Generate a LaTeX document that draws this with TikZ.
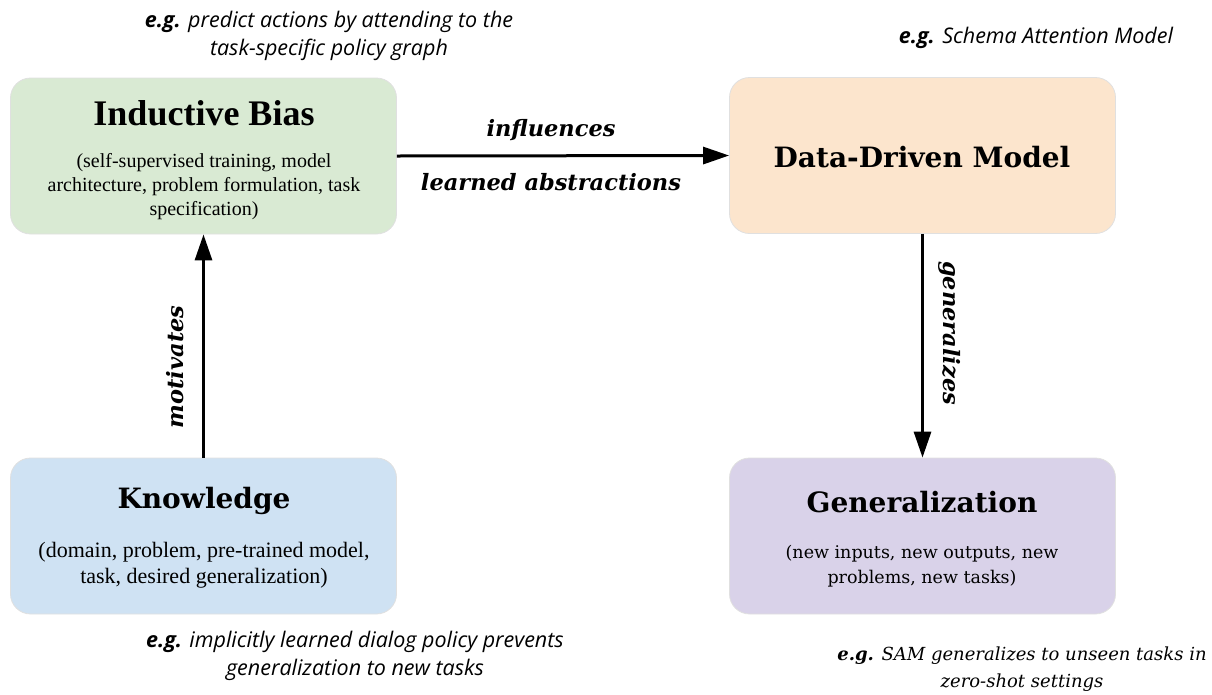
\documentclass[tikz,border=0pt]{standalone}
\usepackage{fontspec}
\setmainfont{DejaVu Serif}
\newfontfamily\condserif{Liberation Serif}
\newfontfamily\egsans{Open Sans}
\usetikzlibrary{arrows.meta}
\definecolor{cgreen}{HTML}{D9EAD3}
\definecolor{corange}{HTML}{FCE5CD}
\definecolor{cblue}{HTML}{CFE2F3}
\definecolor{cpurple}{HTML}{D9D2E9}
\tikzset{
  card/.style={draw=black!12, line width=0.8pt, rounded corners=20pt, minimum width=386pt, minimum height=156pt, inner sep=0pt},
  conn/.style={line width=3pt, -{Triangle[length=26pt,width=17pt]}},
  lbl/.style={font=\fontsize{22.5}{26}\selectfont\bfseries\itshape, inner sep=0pt},
  txt/.style={inner sep=0pt, align=center},
  eg/.style={inner sep=0pt, align=center, font=\egsans\fontsize{21.5}{28}\selectfont\itshape},
}
\begin{document}
\begin{tikzpicture}[x=1pt,y=-1pt]
\useasboundingbox (0,0) rectangle (1212,694);
% boxes
\node[card, fill=cgreen] (ib) at (203.5,156) {};
\node[card, fill=corange] (dd) at (922.5,155.5) {};
\node[card, fill=cblue] (kn) at (203.5,536) {};
\node[card, fill=cpurple] (ge) at (922.5,536) {};
% box texts
\node[txt, font=\condserif\fontsize{36}{42}\selectfont\bfseries] (ibt) at (204,113) {Inductive Bias};
\node[txt, font=\condserif\fontsize{20}{24}\selectfont] (ibs) at (204,187) {(self-supervised training, model\\architecture, problem formulation, task\\specification)};
\node[txt, font=\fontsize{28}{32}\selectfont\bfseries] (ddt) at (922,157) {Data-Driven Model};
\node[txt, font=\fontsize{28}{32}\selectfont\bfseries] (knt) at (204,501) {Knowledge};
\node[txt, font=\condserif\fontsize{22}{26}\selectfont] (kns) at (204,565) {(domain, problem, pre-trained model,\\task, desired generalization)};
\node[txt, font=\fontsize{28}{32}\selectfont\bfseries] (get) at (922,502) {Generalization};
\node[txt, font=\fontsize{17.5}{25}\selectfont] (ges) at (922,566) {(new inputs, new outputs, new\\problems, new tasks)};
% connectors
\draw[conn] (ib.east) -- (dd.west);
\draw[conn] (kn.north) -- (ib.south);
\draw[conn] (dd.south) -- (ge.north);
\node[lbl] (l1) at (551,130) {influences};
\node[lbl] (l2) at (551,182) {learned abstractions};
\node[lbl, rotate=90] (l3) at (175,367) {motivates};
\node[lbl, rotate=-90] (l4) at (950,333) {generalizes};
% annotations
\node[eg] (a1) at (329,36) {\textbf{e.g.} predict actions by attending to the\\task-specific policy graph};
\node[eg] (a2) at (1036,38) {\textbf{e.g.} Schema Attention Model};
\node[eg] (a3) at (355,656) {\textbf{e.g.} implicitly learned dialog policy prevents\\generalization to new tasks};
\node[txt, font=\fontsize{18}{27}\selectfont\itshape] (a4) at (1022,669) {\textbf{e.g.} SAM generalizes to unseen tasks in\\zero-shot settings};
\end{tikzpicture}
\end{document}
